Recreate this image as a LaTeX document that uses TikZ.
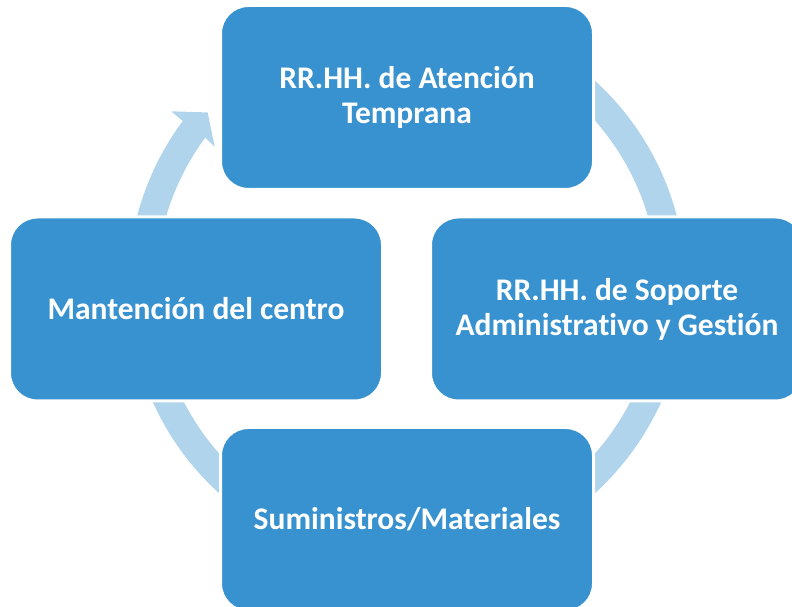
\documentclass[tikz,border=0pt]{standalone}
\usepackage{fontspec}
\setmainfont{Carlito}[Ligatures=NoCommon]
\definecolor{boxblue}{HTML}{3892CF}
\definecolor{ringblue}{HTML}{AFD4EC}
\begin{document}
\begin{tikzpicture}[x=1pt,y=1pt,
    block/.style={rectangle, rounded corners=28pt, fill=boxblue, draw=white, line width=3pt,
        minimum width=373pt, minimum height=184pt, inner sep=0pt, align=center,
        text=white, font=\fontsize{31.5}{35}\selectfont\bfseries}]
    \useasboundingbox (0,0) rectangle (792,607);
    \clip (0,0) rectangle (792,607);
    \coordinate (C) at (407,320);
    % ring with its one arrow head
    \fill[ringblue] ([shift={(C)}]143.5:251) -- ([shift={(C)}]143.9:238)
        -- ([shift={(C)}]138.8:265) -- ([shift={(C)}]143.3:294)
        -- ([shift={(C)}]143.5:279) arc[start angle=143.5, end angle=485, radius=279pt]
        -- ([shift={(C)}]485:251) arc[start angle=485, end angle=143.5, radius=251pt]
        -- cycle;
    \node[block] (atencion) at (407,509.5) {RR.HH. de Atención\\Temprana};
    \node[block] (soporte) at (617,298) {RR.HH. de Soporte\\Administrativo y Gestión};
    \node[block] (suministros) at (407,87.5) {Suministros/Materiales};
    \node[block] (mantencion) at (196,298) {Mantención del centro};
\end{tikzpicture}
\end{document}
